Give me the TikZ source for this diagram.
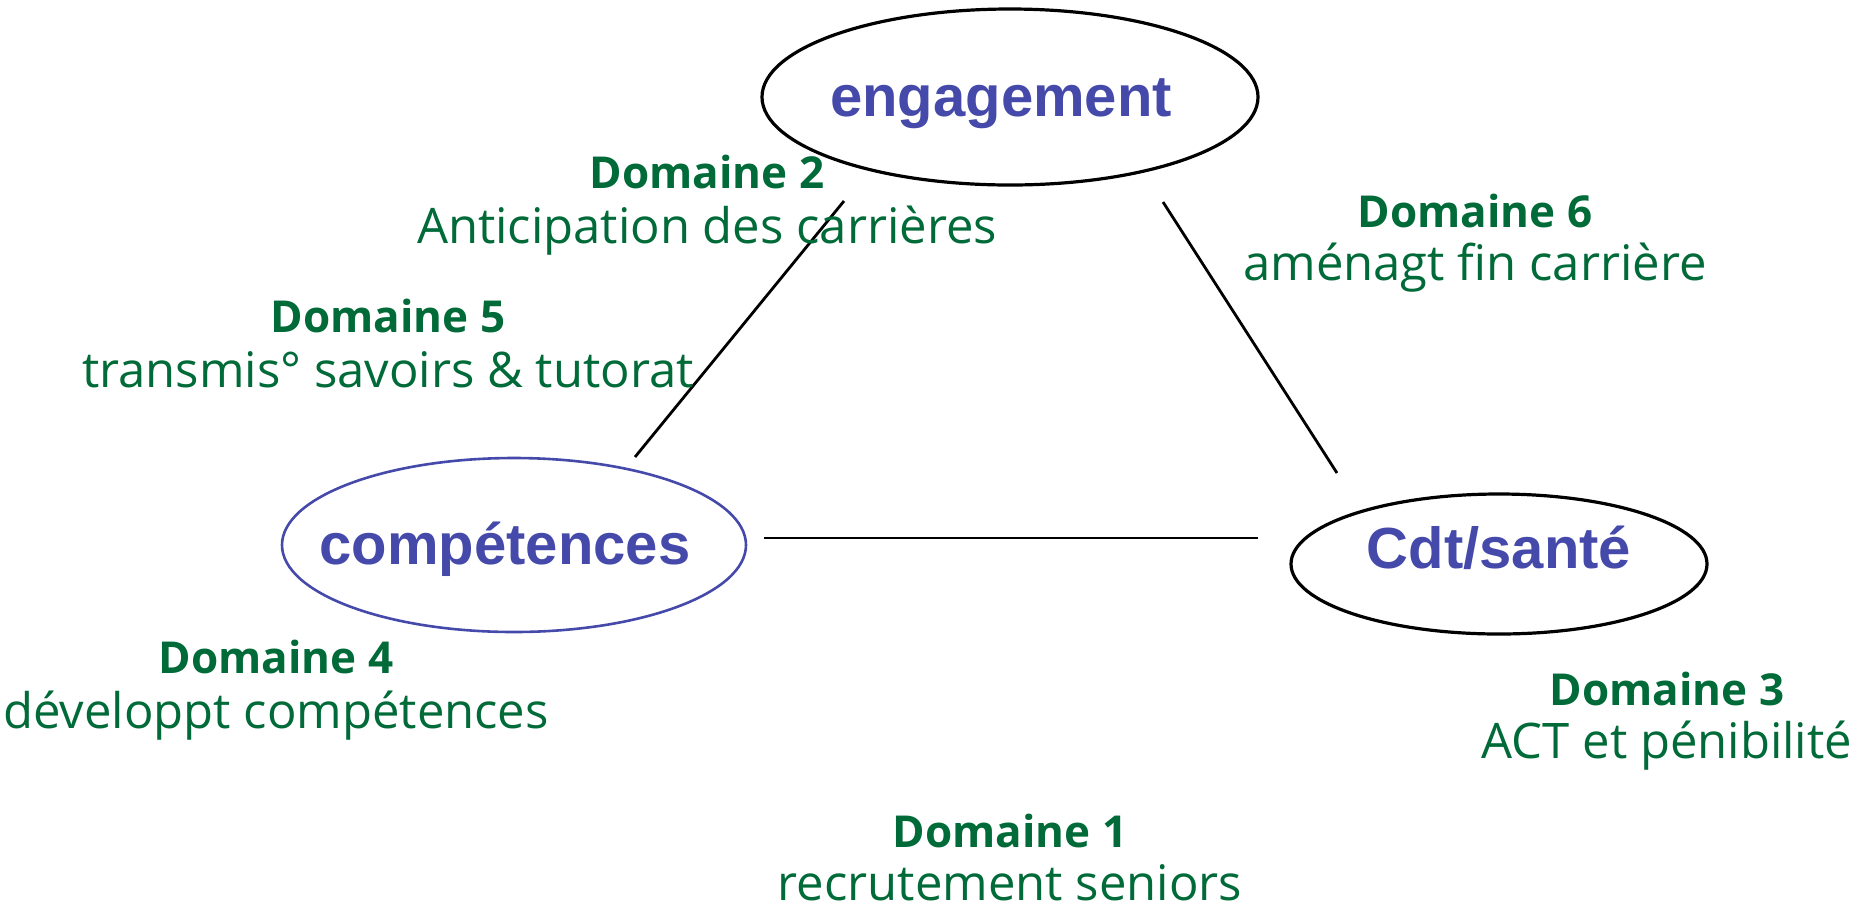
\documentclass[tikz,border=0pt]{standalone}
\usepackage{fontspec}
\setmainfont{Open Sans}
\newfontfamily\hfont{Liberation Sans}
\usetikzlibrary{shapes.geometric}
\definecolor{nodeblue}{RGB}{68,73,170}
\definecolor{domgreen}{RGB}{0,106,56}
\tikzset{
  theme/.style={ellipse, line width=1.6pt, font=\hfont\fontsize{29}{29}\selectfont\bfseries, text=nodeblue, inner ysep=0pt, inner xsep=-40pt},
  domtitle/.style={font=\fontsize{22}{22}\selectfont\bfseries, text=domgreen, inner sep=0pt, anchor=base},
  domtext/.style={font=\fontsize{24.5}{24.5}\selectfont, text=domgreen, inner sep=0pt, anchor=base},
  link/.style={line width=1.4pt, black}
}
\begin{document}
\begin{tikzpicture}[x=0.5pt,y=-0.5pt]
\useasboundingbox (0,0) rectangle (1874,912);
\node[theme, draw=black, minimum width=248pt, minimum height=88pt, text height=19pt, text depth=0pt] (eng) at (1010,97) {\hspace*{-9pt}engagement};
\node[theme, draw=nodeblue, line width=1.3pt, minimum width=232pt, minimum height=87pt, text height=19pt, text depth=0pt] (comp) at (514,545) {\hspace*{-9pt}compétences};
\node[theme, draw=black, minimum width=208pt, minimum height=70pt, text height=21pt, text depth=17pt] (sante) at (1499,564) {Cdt/santé};
\coordinate (l1a) at (635,457);
\coordinate (l1b) at (844,201);
\coordinate (l2a) at (1163,202);
\coordinate (l2b) at (1337,473);
\coordinate (l3a) at (764,538);
\coordinate (l3b) at (1258,538);
\draw[link] (l1a) -- (l1b);
\draw[link] (l2a) -- (l2b);
\draw[link] (l3a) -- (l3b);
\node[domtitle] (d2t) at (707,188) {Domaine 2};
\node[domtext] (d2s) at (707,243) {Anticipation des carrières};
\node[domtitle] (d5t) at (388,332) {Domaine 5};
\node[domtext] (d5s) at (388,387) {transmis° savoirs \& tutorat};
\node[domtitle] (d6t) at (1475,227) {Domaine 6};
\node[domtext] (d6s) at (1475,280) {aménagt fin carrière};
\node[domtitle] (d4t) at (276,673) {Domaine 4};
\node[domtext] (d4s) at (276,728) {développt compétences};
\node[domtitle] (d3t) at (1667,705) {Domaine 3};
\node[domtext] (d3s) at (1667,758) {ACT et pénibilité};
\node[domtitle] (d1t) at (1010,847) {Domaine 1};
\node[domtext] (d1s) at (1010,900) {recrutement seniors};
\end{tikzpicture}
\end{document}
